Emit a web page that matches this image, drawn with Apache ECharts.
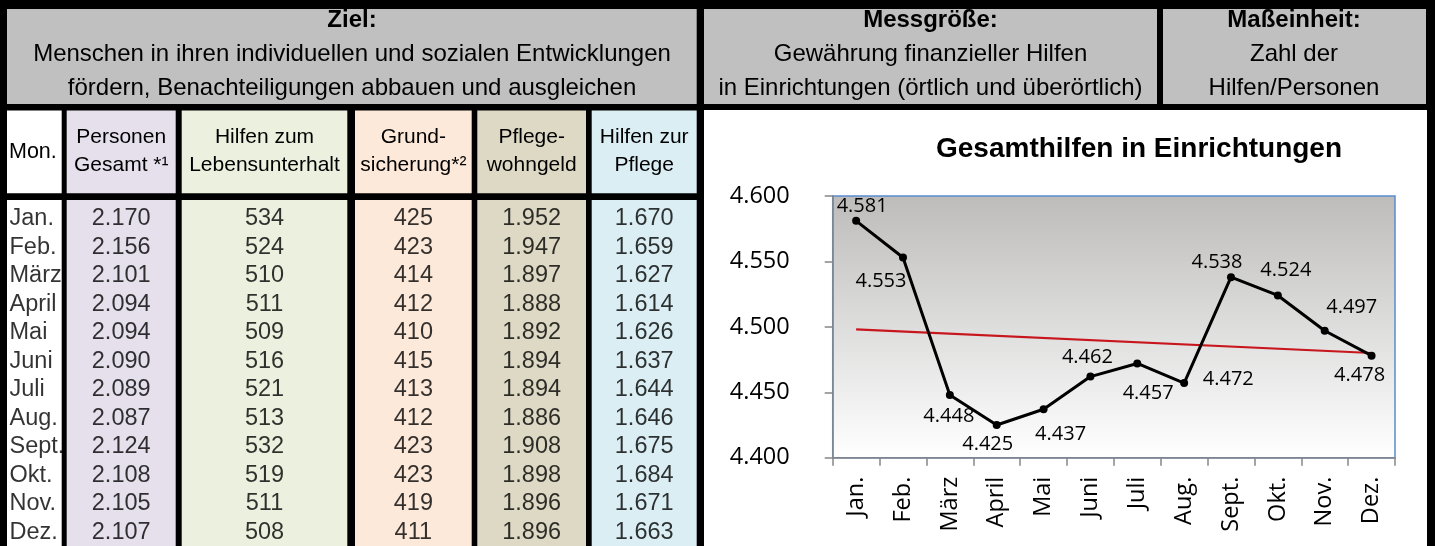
<!DOCTYPE html>
<html>
<head>
<meta charset="utf-8">
<script src="https://cdn.jsdelivr.net/npm/echarts@6/dist/echarts.min.js"></script>
<style>
html,body{margin:0;padding:0;background:#000;}
#c{width:1435px;height:546px;}
</style>
</head>
<body>
<div id="c"></div>
<script>
// ---------- data ----------
const months = ['Jan.','Feb.','März','April','Mai','Juni','Juli','Aug.','Sept.','Okt.','Nov.','Dez.'];
const personenGesamt = [2170,2156,2101,2094,2094,2090,2089,2087,2124,2108,2105,2107];
const hilfenLebensunterhalt = [534,524,510,511,509,516,521,513,532,519,511,508];
const grundsicherung = [425,423,414,412,410,415,413,412,423,423,419,411];
const pflegewohngeld = [1952,1947,1897,1888,1892,1894,1894,1886,1908,1898,1896,1896];
const hilfenPflege = [1670,1659,1627,1614,1626,1637,1644,1646,1675,1684,1671,1663];
const gesamthilfen = [4581,4553,4448,4425,4437,4462,4472,4457,4538,4524,4497,4478];
const trendEnds = [4498,4480];           // linear trend line, Jan. and Dez.
const yTicks = {min:4400, max:4600, interval:50};

// ---------- texts ----------
const zielTitle = 'Ziel:';
const zielLines = ['Menschen in ihren individuellen und sozialen Entwicklungen','fördern, Benachteiligungen abbauen und ausgleichen'];
const messTitle = 'Messgröße:';
const messLines = ['Gewährung finanzieller Hilfen','in Einrichtungen (örtlich und überörtlich)'];
const einheitTitle = 'Maßeinheit:';
const einheitLines = ['Zahl der','Hilfen/Personen'];
const colHeaders = ['Mon.','Personen\nGesamt *¹','Hilfen zum\nLebensunterhalt','Grund-\nsicherung*²','Pflege-\nwohngeld','Hilfen zur\nPflege'];
const chartTitle = 'Gesamthilfen in Einrichtungen';

// ---------- layout / style (not data) ----------
const colX = [[7,61.7],[66.7,175.7],[181.7,347.3],[355,471.7],[477.3,586],[591.7,696.7]];
const colBg = ['#ffffff','#e5e0ec','#ebf1de','#fde9d9','#ddd9c4','#daeef3'];
const colValues = [null, personenGesamt, hilfenLebensunterhalt, grundsicherung, pflegewohngeld, hilfenPflege];
const labelOffsets = [[6,-15],[-22,24],[-1,21],[-9,19],[17,25],[-3,-19],[91,16],[-36,10],[-14,-15],[8,-25],[27,-23],[-12,20]];
const TF = "'Liberation Sans', Arial, Helvetica, sans-serif";
const CF = "'Open Sans', 'Noto Sans', sans-serif";
const GREY = '#c0c0c0';

const fmt = v => String(v).replace(/\B(?=(\d{3})+(?!\d))/g, '.');

const chart = echarts.init(document.getElementById('c'), null, {renderer:'canvas'});

const grids = [], xAxes = [], yAxes = [], series = [];
const rowTop = 200, rowH = 346, pitch = 28.545, firstCenter = 18.5;
const yMin = -firstCenter / pitch, yMax = yMin + rowH / pitch;

colX.forEach((c, i) => {
  grids.push({left:c[0], top:rowTop, width:c[1]-c[0], height:rowH, show:true, backgroundColor:colBg[i], borderWidth:0});
  xAxes.push({gridIndex:i, type:'value', min:0, max:1, show:false});
  yAxes.push({gridIndex:i, type:'value', inverse:true, min:yMin, max:yMax, show:false});
  const vals = colValues[i];
  series.push({
    type:'scatter', xAxisIndex:i, yAxisIndex:i, silent:true,
    symbolSize:1, itemStyle:{color:'rgba(0,0,0,0)'},
    data: months.map((m, r) => [i === 0 ? 0 : 0.5, r]),
    label:{
      show:true, position:'inside', color:'#000',
      fontFamily:TF, fontSize:23.5,
      align: i === 0 ? 'left' : 'center',
      offset: i === 0 ? [2.5, 0] : [0, 0],
      formatter: p => i === 0 ? months[p.dataIndex] : fmt(vals[p.dataIndex])
    }
  });
});

// chart grid
const CG = colX.length;
grids.push({
  left:832.7, right:40, top:196, bottom:88.3, show:true, borderColor:'#5a8ad0', borderWidth:1.5,
  backgroundColor:{type:'linear', x:0, y:0, x2:0, y2:1, colorStops:[{offset:0,color:'#bdbcbb'},{offset:1,color:'#ffffff'}]}
});
xAxes.push({
  gridIndex:CG, type:'category', data:months, boundaryGap:true,
  axisLine:{lineStyle:{color:'#868686', width:1.5}},
  axisTick:{show:true, length:8, lineStyle:{color:'#868686', width:1.5}},
  axisLabel:{rotate:90, margin:19, color:'#000', fontFamily:CF, fontSize:23.5}
});
yAxes.push({
  gridIndex:CG, type:'value', min:yTicks.min, max:yTicks.max, interval:yTicks.interval,
  axisLine:{show:true, lineStyle:{color:'#868686', width:1.5}},
  axisTick:{show:true, length:8, lineStyle:{color:'#868686', width:1.5}},
  splitLine:{show:false},
  axisLabel:{margin:43, color:'#000', fontFamily:CF, fontSize:23.5, formatter: v => fmt(v)}
});
series.push({
  type:'line', xAxisIndex:CG, yAxisIndex:CG, silent:true, symbol:'none',
  data:[[0, trendEnds[0]], [months.length-1, trendEnds[1]]],
  lineStyle:{color:'#c8161d', width:2.2}, z:2
});
series.push({
  type:'line', xAxisIndex:CG, yAxisIndex:CG, silent:true,
  data: gesamthilfen.map((v, i) => ({value:v, label:{offset:labelOffsets[i]}})),
  symbol:'circle', symbolSize:8, itemStyle:{color:'#000'},
  lineStyle:{color:'#000', width:3}, z:3,
  label:{show:true, position:'inside', color:'#000', fontFamily:CF, fontSize:20, formatter: p => fmt(p.value)}
});

// graphic: header boxes and texts
const graphic = [];
function rect(x0, y0, x1, y1, fill){ graphic.push({type:'rect', silent:true, z:-10, shape:{x:x0, y:y0, width:x1-x0, height:y1-y0}, style:{fill}}); }
function text(t, x, y, size, bold, align, lh){
  graphic.push({type:'text', silent:true, z:10, x, y, style:{text:t, fill:'#000', font:(bold?'bold ':'')+size+'px '+TF, align:align||'center', verticalAlign:'middle', lineHeight:lh||size}});
}
rect(7, 9, 696.7, 104, GREY);
rect(704, 9, 1157, 104, GREY);
rect(1163, 9, 1426, 104, GREY);
rect(704, 110, 1427, 546, '#ffffff');
colX.forEach((c, i) => rect(c[0], 110.5, c[1], 193.3, colBg[i]));

text(zielTitle, 352, 20.5, 24, true);
zielLines.forEach((l, k) => text(l, 352, 54.5 + 34*k, 24, false));
text(messTitle, 930.5, 20.5, 24, true);
messLines.forEach((l, k) => text(l, 930.5, 54.5 + 34*k, 24, false));
text(einheitTitle, 1294, 20.5, 24, true);
einheitLines.forEach((l, k) => text(l, 1294, 54.5 + 34*k, 24, false));

colHeaders.forEach((h, i) => {
  const c = colX[i];
  if (i === 0) text(h, c[0] + 2, 152, 21.5, false, 'left');
  else text(h, (c[0] + c[1]) / 2, 151.5, 21, false, 'center', 28);
});

chart.setOption({
  backgroundColor:'#000',
  animation:false,
  title:{text:chartTitle, left:931, top:130, textStyle:{fontFamily:TF, fontSize:28, fontWeight:'bold', color:'#000'}},
  grid:grids, xAxis:xAxes, yAxis:yAxes, series, graphic
});
</script>
</body>
</html>
